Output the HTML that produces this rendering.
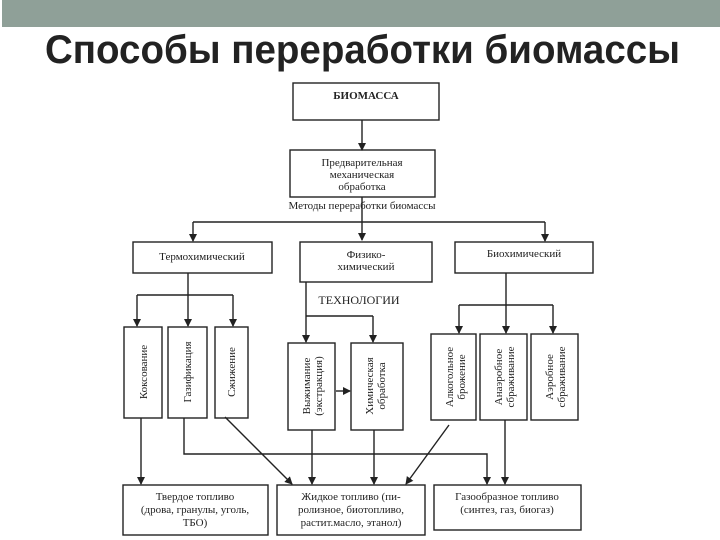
<!DOCTYPE html>
<html><head><meta charset="utf-8"><style>
html,body{margin:0;padding:0;background:#fff;width:720px;height:540px;overflow:hidden}
</style></head><body>
<svg width="720" height="540" xmlns="http://www.w3.org/2000/svg" font-family="Liberation Serif, serif" fill="none" stroke="#222" stroke-width="1.4">
<defs><marker id="a" markerWidth="8" markerHeight="8" refX="7" refY="4" orient="auto" markerUnits="userSpaceOnUse"><path d="M0,0 L8,4 L0,8z" fill="#222" stroke="none"/></marker></defs>
<rect x="2" y="0" width="718" height="27" fill="#8fa098" stroke="none"/>
<text x="45" y="63" textLength="635" lengthAdjust="spacingAndGlyphs" font-family="Liberation Sans, sans-serif" font-weight="bold" font-size="40" fill="#222" stroke="none">Способы переработки биомассы</text>
<g fill="#fff">
<rect x="293" y="83" width="146" height="37"/>
<rect x="290" y="150" width="145" height="47"/>
<rect x="133" y="242" width="139" height="31"/>
<rect x="300" y="242" width="132" height="40"/>
<rect x="455" y="242" width="138" height="31"/>
<rect x="124" y="327" width="38" height="91"/>
<rect x="168" y="327" width="39" height="91"/>
<rect x="215" y="327" width="33" height="91"/>
<rect x="288" y="343" width="47" height="87"/>
<rect x="351" y="343" width="52" height="87"/>
<rect x="431" y="334" width="45" height="86"/>
<rect x="480" y="334" width="47" height="86"/>
<rect x="531" y="334" width="47" height="86"/>
<rect x="123" y="485" width="145" height="50"/>
<rect x="277" y="485" width="148" height="50"/>
<rect x="434" y="485" width="147" height="45"/>
</g>
<g marker-end="url(#a)">
<line x1="362" y1="120" x2="362" y2="150"/>
<line x1="362" y1="197" x2="362" y2="240"/>
<line x1="193" y1="222" x2="193" y2="241"/>
<line x1="545" y1="222" x2="545" y2="241"/>
<line x1="137" y1="295" x2="137" y2="326"/>
<line x1="188" y1="273" x2="188" y2="326"/>
<line x1="233" y1="295" x2="233" y2="326"/>
<line x1="306" y1="282" x2="306" y2="342"/>
<line x1="373" y1="316" x2="373" y2="342"/>
<line x1="459" y1="305" x2="459" y2="333"/>
<line x1="506" y1="273" x2="506" y2="333"/>
<line x1="553" y1="305" x2="553" y2="333"/>
<line x1="336" y1="391" x2="350" y2="391"/>
<line x1="141" y1="418" x2="141" y2="484"/>
<line x1="225" y1="417" x2="292" y2="484"/>
<polyline points="184,418 184,454 487,454 487,484"/>
<line x1="312" y1="430" x2="312" y2="484"/>
<line x1="374" y1="430" x2="374" y2="484"/>
<line x1="449" y1="425" x2="406" y2="484"/>
<line x1="505" y1="420" x2="505" y2="484"/>
</g>
<line x1="193" y1="222" x2="545" y2="222"/>
<line x1="137" y1="295" x2="233" y2="295"/>
<line x1="306" y1="316" x2="373" y2="316"/>
<line x1="459" y1="305" x2="553" y2="305"/>
<g fill="#222" stroke="none" font-size="11" text-anchor="middle">
<text x="366" y="99" font-weight="bold">БИОМАССА</text>
<text x="362" y="166">Предварительная</text>
<text x="362" y="178">механическая</text>
<text x="362" y="190">обработка</text>
<text x="362" y="209">Методы переработки биомассы</text>
<text x="202" y="260">Термохимический</text>
<text x="366" y="258">Физико-</text>
<text x="366" y="270">химический</text>
<text x="524" y="257">Биохимический</text>
<text x="359" y="304" font-size="12">ТЕХНОЛОГИИ</text>
<text transform="translate(147,372) rotate(-90)">Коксование</text>
<text transform="translate(191,372) rotate(-90)">Газификация</text>
<text transform="translate(235,372) rotate(-90)">Сжижение</text>
<text transform="translate(310,386) rotate(-90)">Выжимание</text>
<text transform="translate(322,386) rotate(-90)">(экстракция)</text>
<text transform="translate(373,386) rotate(-90)">Химическая</text>
<text transform="translate(385,386) rotate(-90)">обработка</text>
<text transform="translate(453,377) rotate(-90)">Алкогольное</text>
<text transform="translate(465,377) rotate(-90)">брожение</text>
<text transform="translate(502,377) rotate(-90)">Анаэробное</text>
<text transform="translate(514,377) rotate(-90)">сбраживание</text>
<text transform="translate(553,377) rotate(-90)">Аэробное</text>
<text transform="translate(565,377) rotate(-90)">сбраживание</text>
<text x="195" y="500">Твердое топливо</text>
<text x="195" y="513">(дрова, гранулы, уголь,</text>
<text x="195" y="526">ТБО)</text>
<text x="351" y="500">Жидкое топливо (пи-</text>
<text x="351" y="513">ролизное, биотопливо,</text>
<text x="351" y="526">растит.масло, этанол)</text>
<text x="507" y="500">Газообразное топливо</text>
<text x="507" y="513">(синтез, газ, биогаз)</text>
</g>
</svg>
</body></html>
